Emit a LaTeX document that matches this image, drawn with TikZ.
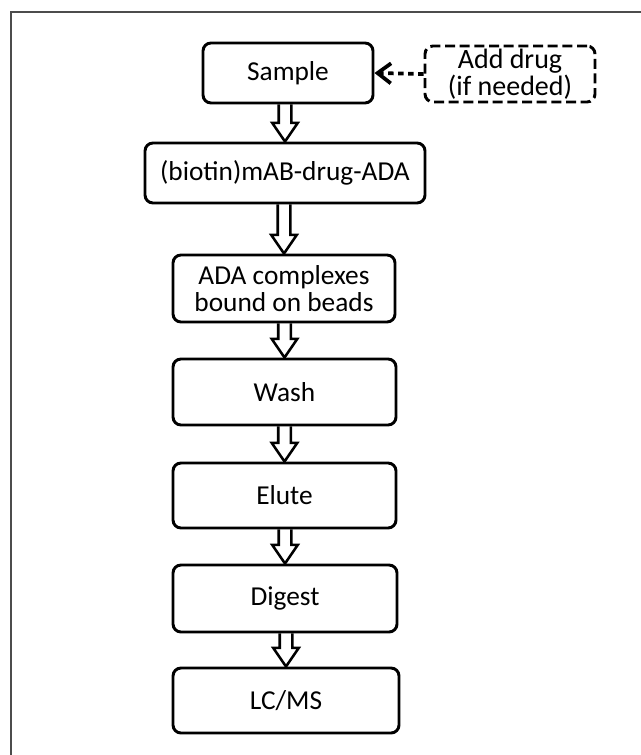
\documentclass[tikz,border=0pt]{standalone}
\usepackage{fontspec}
\setmainfont{Carlito}
\usetikzlibrary{arrows.meta,calc}
\tikzset{
  stepbox/.style={draw, line width=2.2pt, rounded corners=6pt, align=center,
    font=\fontsize{20.5}{24}\selectfont, inner sep=0pt},
  twoline/.style={font=\fontsize{20.5}{20.5}\selectfont},
  drugbox/.style={stepbox, dash pattern=on 7.5pt off 3.5pt, font=\fontsize{21}{20.5}\selectfont},
  hollow/.style={line width=1.9pt, line join=miter, to path={
    let \p1=(\tikztostart), \p2=(\tikztotarget) in
    (\x2-4.7pt,\y1) -- (\x2-4.7pt,\y2+14pt) -- (\x2-9.6pt,\y2+14pt) -- (\x2,\y2)
    -- (\x2+9.6pt,\y2+14pt) -- (\x2+4.7pt,\y2+14pt) -- (\x2+4.7pt,\y1)}},
  dotarrow/.style={line width=2.8pt, dash pattern=on 4pt off 3.5pt,
    -{Straight Barb[length=10pt,width=15pt,line width=2.8pt]}},
  frame/.style={draw=black!70, line width=1.5pt}
}
\begin{document}
\begin{tikzpicture}[x=0.75pt,y=-0.75pt]
\useasboundingbox (0,0) rectangle (641,755);
\coordinate (fb) at (11,755);
\coordinate (fc) at (11,12);
\coordinate (fr) at (641,12);
\draw[frame] (fb) -- (fc) -- (fr);

\node[stepbox, minimum width=127.5pt, minimum height=45pt] (sample) at (288,73) {Sample};
\node[drugbox, minimum width=127.5pt, minimum height=42pt] (drug) at (510,74) {Add drug\\(if needed)};
\node[stepbox, minimum width=210pt, minimum height=45pt] (biotin) at (285,173) {(biotin)mAB-drug-ADA};
\node[stepbox, twoline, minimum width=166.5pt, minimum height=50.25pt] (ada) at (284,288.5) {ADA complexes\\bound on beads};
\node[stepbox, minimum width=167.25pt, minimum height=49.5pt] (wash) at (284.5,392) {Wash};
\node[stepbox, minimum width=167.25pt, minimum height=48.75pt] (elute) at (284.5,495.5) {Elute};
\node[stepbox, minimum width=168pt, minimum height=50.25pt] (digest) at (285,598.5) {Digest};
\node[stepbox, minimum width=169.5pt, minimum height=48.75pt] (lcms) at (286,700.5) {LC/MS};

\draw[dotarrow] (drug.west) -- (sample.east);
\draw[hollow] (sample.south) to (biotin.north);
\draw[hollow] (biotin.south) to (ada.north);
\draw[hollow] (ada.south) to (wash.north);
\draw[hollow] (wash.south) to (elute.north);
\draw[hollow] (elute.south) to (digest.north);
\draw[hollow] (digest.south) to (lcms.north);
\end{tikzpicture}
\end{document}
